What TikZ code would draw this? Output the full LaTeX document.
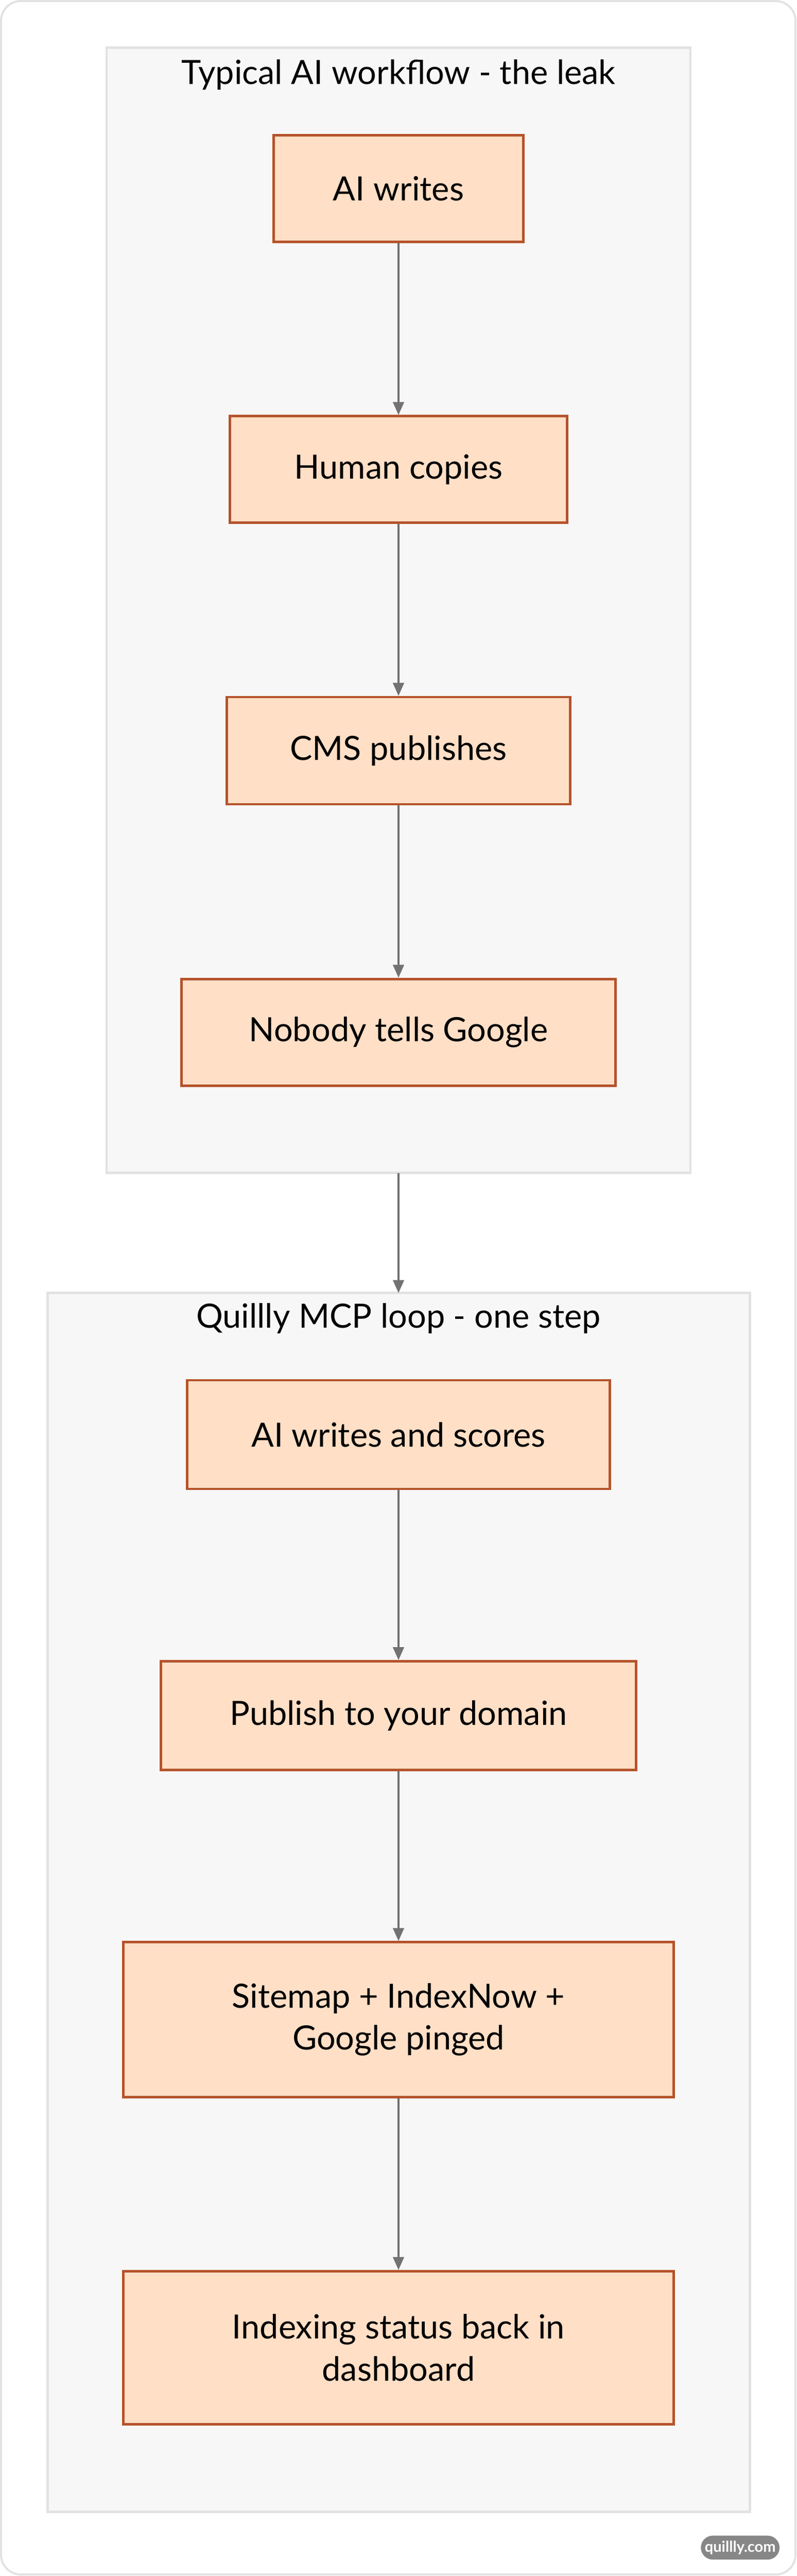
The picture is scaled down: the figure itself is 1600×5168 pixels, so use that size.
\documentclass[tikz,border=0pt]{standalone}
\usepackage{fontspec}
\setmainfont{Lato}
\usetikzlibrary{arrows.meta}
\definecolor{boxfill}{HTML}{FFDFC6}
\definecolor{boxline}{HTML}{B5532B}
\definecolor{clfill}{HTML}{F7F7F7}
\definecolor{clline}{HTML}{E2E2E2}
\definecolor{arr}{HTML}{727272}
\begin{document}
\begin{tikzpicture}[x=1pt,y=-1pt,
  box/.style={draw=boxline,fill=boxfill,line width=5pt,align=center,inner sep=0pt,font=\fontsize{67}{84}\selectfont},
  cl/.style={draw=clline,fill=clfill,line width=5pt},
  ttl/.style={font=\fontsize{67}{78}\selectfont},
  link/.style={draw=arr,line width=4pt,-{Triangle[length=26pt,width=22pt]}}]
\useasboundingbox (0,0) rectangle (1600,5168);
\draw[clline,line width=4pt,fill=white,rounded corners=40pt] (2,2) rectangle (1597,5165);
\draw[cl] (214,96) rectangle (1386,2353);
\node[ttl] (t1) at (800,150) {Typical AI workflow - the leak};
\draw[cl] (96,2594) rectangle (1505,5039);
\node[ttl] (t2) at (800,2645) {Quillly MCP loop - one step};
\node[box,minimum width=501pt,minimum height=214pt] (a) at (800,378) {AI writes};
\node[box,minimum width=677pt,minimum height=214pt] (b) at (800,942) {Human copies};
\node[box,minimum width=690pt,minimum height=215pt] (c) at (800,1506) {CMS publishes};
\node[box,minimum width=871pt,minimum height=214pt] (d) at (800,2071) {Nobody tells Google};
\node[box,minimum width=848pt,minimum height=218pt] (e) at (800,2878) {AI writes and scores};
\node[box,minimum width=954pt,minimum height=218pt] (f) at (800,3442) {Publish to your domain};
\node[box,minimum width=1105pt,minimum height=311pt] (g) at (800,4052) {Sitemap + IndexNow +\\Google pinged};
\node[box,minimum width=1105pt,minimum height=307pt] (h) at (800,4710) {Indexing status back in\\dashboard};
\coordinate (c1) at (800,2353);
\coordinate (c2) at (800,2594);
\draw[link] (a) -- (b);
\draw[link] (b) -- (c);
\draw[link] (c) -- (d);
\draw[link] (c1) -- (c2);
\draw[link] (e) -- (f);
\draw[link] (f) -- (g);
\draw[link] (g) -- (h);
\node[fill=arr!85,text=white,rounded corners=24pt,minimum width=158pt,minimum height=48pt,inner sep=0pt,font=\fontsize{30}{36}\selectfont\bfseries] (w) at (1486,5111) {quillly.com};
\end{tikzpicture}
\end{document}
